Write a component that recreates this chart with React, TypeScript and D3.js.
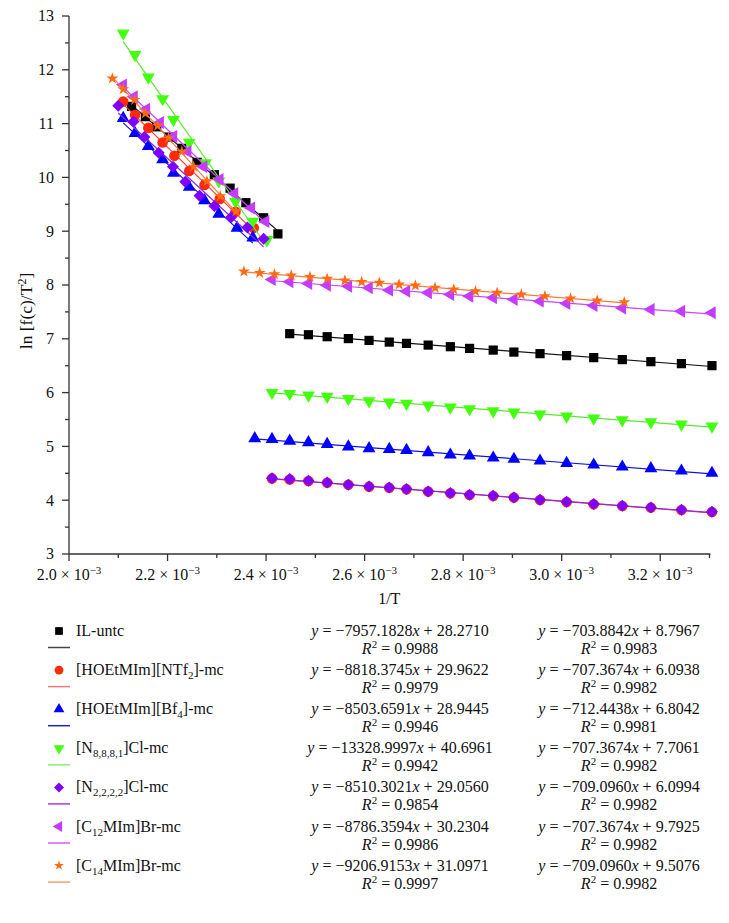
import React from 'react';
import * as d3 from 'd3';

const W = 729;
const H = 923;

// x values are 1/T in units of 1e-3 K^-1
// ---- steep (high temperature) segments ----
const ilSteepX = [2.127, 2.155, 2.178, 2.203, 2.229, 2.260, 2.295, 2.327, 2.359, 2.395, 2.424];
const ilSteepY = [11.32, 11.13, 10.94, 10.75, 10.54, 10.28, 10.05, 9.80, 9.53, 9.25, 8.95];
const ntf2SteepX = [2.110, 2.134, 2.161, 2.190, 2.214, 2.244, 2.275, 2.306, 2.338, 2.375];
const ntf2SteepY = [11.41, 11.16, 10.92, 10.65, 10.40, 10.12, 9.86, 9.60, 9.36, 9.06];
const bf4SteepX = [2.110, 2.134, 2.161, 2.190, 2.212, 2.244, 2.275, 2.304, 2.341, 2.373];
const bf4SteepY = [11.10, 10.82, 10.58, 10.33, 10.08, 9.82, 9.57, 9.32, 9.06, 8.88];
const n8881SteepX = [2.110, 2.134, 2.161, 2.190, 2.212, 2.244, 2.277, 2.304, 2.338, 2.373, 2.402];
const n8881SteepY = [12.68, 12.28, 11.86, 11.46, 11.07, 10.65, 10.27, 9.93, 9.55, 9.18, 8.84];
const n2222SteepX = [2.100, 2.131, 2.153, 2.182, 2.211, 2.236, 2.265, 2.295, 2.329, 2.362, 2.395];
const n2222SteepY = [11.33, 11.04, 10.75, 10.46, 10.20, 9.92, 9.66, 9.47, 9.26, 9.07, 8.86];
const c12SteepX = [2.110, 2.132, 2.157, 2.185, 2.212, 2.241, 2.273, 2.306, 2.336, 2.370, 2.399];
const c12SteepY = [11.72, 11.50, 11.27, 11.02, 10.76, 10.48, 10.20, 9.96, 9.70, 9.43, 9.18];
const c14SteepX = [2.088, 2.110, 2.133, 2.155, 2.180, 2.202, 2.229, 2.253, 2.280, 2.307, 2.339];
const c14SteepY = [11.84, 11.64, 11.44, 11.19, 10.96, 10.73, 10.48, 10.20, 9.93, 9.65, 9.37];

// ---- shallow (low temperature) segments ----
const ilShallowX = [2.448, 2.486, 2.524, 2.567, 2.609, 2.650, 2.685, 2.729, 2.774, 2.813, 2.861, 2.903, 2.956, 3.010, 3.065, 3.123, 3.181, 3.243, 3.305];
const ilShallowY = [7.095, 7.076, 7.039, 7.004, 6.970, 6.939, 6.915, 6.883, 6.853, 6.822, 6.790, 6.753, 6.724, 6.687, 6.650, 6.613, 6.575, 6.538, 6.501];
const ntf2ShallowX = [2.412, 2.448, 2.486, 2.524, 2.567, 2.609, 2.650, 2.685, 2.729, 2.774, 2.813, 2.861, 2.903, 2.956, 3.010, 3.065, 3.123, 3.181, 3.243, 3.305];
const ntf2ShallowY = [4.405, 4.385, 4.356, 4.325, 4.286, 4.252, 4.232, 4.202, 4.160, 4.128, 4.097, 4.077, 4.048, 4.004, 3.966, 3.925, 3.892, 3.862, 3.818, 3.781];
const bf4ShallowX = [2.377, 2.412, 2.448, 2.486, 2.524, 2.567, 2.609, 2.650, 2.685, 2.729, 2.774, 2.813, 2.861, 2.903, 2.956, 3.010, 3.065, 3.123, 3.181, 3.243, 3.305];
const bf4ShallowY = [5.147, 5.134, 5.102, 5.073, 5.041, 4.995, 4.961, 4.948, 4.930, 4.887, 4.842, 4.824, 4.787, 4.763, 4.731, 4.688, 4.657, 4.620, 4.590, 4.545, 4.503];
const n8881ShallowX = [2.412, 2.448, 2.486, 2.524, 2.567, 2.609, 2.650, 2.685, 2.729, 2.774, 2.813, 2.861, 2.903, 2.956, 3.010, 3.065, 3.123, 3.181, 3.243, 3.305];
const n8881ShallowY = [6.000, 5.981, 5.950, 5.926, 5.885, 5.844, 5.820, 5.796, 5.764, 5.727, 5.696, 5.659, 5.635, 5.597, 5.560, 5.523, 5.492, 5.454, 5.412, 5.375];
const n2222ShallowX = [2.412, 2.448, 2.486, 2.524, 2.567, 2.609, 2.650, 2.685, 2.729, 2.774, 2.813, 2.861, 2.903, 2.956, 3.010, 3.065, 3.123, 3.181, 3.243, 3.305];
const n2222ShallowY = [4.410, 4.392, 4.360, 4.330, 4.289, 4.256, 4.237, 4.206, 4.163, 4.132, 4.100, 4.081, 4.052, 4.007, 3.970, 3.928, 3.896, 3.866, 3.822, 3.785];
const c12ShallowX = [2.412, 2.448, 2.486, 2.524, 2.567, 2.609, 2.650, 2.685, 2.729, 2.774, 2.813, 2.861, 2.903, 2.956, 3.010, 3.065, 3.123, 3.181, 3.243, 3.305];
const c12ShallowY = [8.100, 8.060, 8.028, 7.996, 7.978, 7.948, 7.904, 7.885, 7.855, 7.824, 7.792, 7.763, 7.731, 7.700, 7.657, 7.620, 7.573, 7.545, 7.513, 7.484];
const c14ShallowX = [2.355, 2.387, 2.417, 2.451, 2.489, 2.524, 2.560, 2.594, 2.630, 2.670, 2.703, 2.743, 2.781, 2.825, 2.869, 2.918, 2.966, 3.018, 3.072, 3.127];
const c14ShallowY = [8.250, 8.226, 8.200, 8.176, 8.148, 8.117, 8.083, 8.059, 8.041, 8.009, 7.991, 7.948, 7.917, 7.885, 7.855, 7.824, 7.792, 7.750, 7.712, 7.681];

// ---- legend / labels ----
type Part = { t: string; sub?: boolean };
const seriesNames: Part[][] = [
  [{ t: 'IL-untc' }],
  [{ t: '[HOEtMIm][NTf' }, { t: '2', sub: true }, { t: ']-mc' }],
  [{ t: '[HOEtMIm][Bf' }, { t: '4', sub: true }, { t: ']-mc' }],
  [{ t: '[N' }, { t: '8,8,8,1', sub: true }, { t: ']Cl-mc' }],
  [{ t: '[N' }, { t: '2,2,2,2', sub: true }, { t: ']Cl-mc' }],
  [{ t: '[C' }, { t: '12', sub: true }, { t: 'MIm]Br-mc' }],
  [{ t: '[C' }, { t: '14', sub: true }, { t: 'MIm]Br-mc' }],
];
const steepSlopes = ['−7957.1828', '−8818.3745', '−8503.6591', '−13328.9997', '−8510.3021', '−8786.3594', '−9206.9153'];
const steepIntercepts = ['28.2710', '29.9622', '28.9445', '40.6961', '29.0560', '30.2304', '31.0971'];
const steepR2 = ['0.9988', '0.9979', '0.9946', '0.9942', '0.9854', '0.9986', '0.9997'];
const shallowSlopes = ['−703.8842', '−707.3674', '−712.4438', '−707.3674', '−709.0960', '−707.3674', '−709.0960'];
const shallowIntercepts = ['8.7967', '6.0938', '6.8042', '7.7061', '6.0994', '9.7925', '9.5076'];
const shallowR2 = ['0.9983', '0.9982', '0.9981', '0.9982', '0.9982', '0.9982', '0.9982'];

const markerKinds = ['square', 'circle', 'triUp', 'triDown', 'diamond', 'triLeft', 'star'];
const markerColors = ['#000000', '#ff2a0c', '#0000ff', '#44ff10', '#8000ff', '#c43cff', '#ff6a12'];
const lineColors = ['#111111', '#ff3a2a', '#1010e0', '#5ae830', '#8a2be2', '#cc44ff', '#ff7a30'];
const legendLineColors = ['#444444', '#f07878', '#2020c8', '#88f070', '#9a40e8', '#d060f0', '#f0a070'];

const xMajor = [2.0, 2.2, 2.4, 2.6, 2.8, 3.0, 3.2];
const xMajorLabels = ['2.0', '2.2', '2.4', '2.6', '2.8', '3.0', '3.2'];
const xMinor = [2.1, 2.3, 2.5, 2.7, 2.9, 3.1, 3.3];
const yMajor = [3, 4, 5, 6, 7, 8, 9, 10, 11, 12, 13];
const yMinor = [3.5, 4.5, 5.5, 6.5, 7.5, 8.5, 9.5, 10.5, 11.5, 12.5];

const steepXs = [ilSteepX, ntf2SteepX, bf4SteepX, n8881SteepX, n2222SteepX, c12SteepX, c14SteepX];
const steepYs = [ilSteepY, ntf2SteepY, bf4SteepY, n8881SteepY, n2222SteepY, c12SteepY, c14SteepY];
const shallowXs = [ilShallowX, ntf2ShallowX, bf4ShallowX, n8881ShallowX, n2222ShallowX, c12ShallowX, c14ShallowX];
const shallowYs = [ilShallowY, ntf2ShallowY, bf4ShallowY, n8881ShallowY, n2222ShallowY, c12ShallowY, c14ShallowY];

const FONT = '"Liberation Serif", "Times New Roman", serif';

const left = 69, right = 709.5, top = 16, bottom = 554;
const x = d3.scaleLinear().domain([2.0, 3.3]).range([left, right]);
const y = d3.scaleLinear().domain([3, 13]).range([bottom, top]);

function fit(xs: number[], ys: number[]) {
  const mx = d3.mean(xs) as number;
  const my = d3.mean(ys) as number;
  let sxy = 0, sxx = 0;
  xs.forEach((v, i) => { sxy += (v - mx) * (ys[i] - my); sxx += (v - mx) * (v - mx); });
  const b = sxy / sxx;
  const a = my - b * mx;
  const x0 = d3.min(xs) as number, x1 = d3.max(xs) as number;
  return [[x0, a + b * x0], [x1, a + b * x1]] as [number, number][];
}

function symbolFor(kind: string, scale = 1) {
  let type: d3.SymbolType = d3.symbolSquare;
  let size = 85;
  let rot = 0;
  switch (kind) {
    case 'square': type = d3.symbolSquare; size = 85; break;
    case 'circle': type = d3.symbolCircle; size = 88; break;
    case 'triUp': type = d3.symbolTriangle; size = 72; break;
    case 'triDown': type = d3.symbolTriangle; size = 72; rot = 180; break;
    case 'diamond': type = d3.symbolSquare; size = 72; rot = 45; break;
    case 'triLeft': type = d3.symbolTriangle; size = 72; rot = -90; break;
    case 'star': type = d3.symbolStar; size = 44; break;
  }
  return { d: d3.symbol().type(type).size(size * scale)() as string, rot };
}

const line = d3.line<[number, number]>().x(d => x(d[0])).y(d => y(d[1]));

function NameText({ parts, xPos, yPos }: { parts: Part[]; xPos: number; yPos: number }) {
  const out: React.ReactNode[] = [];
  let shifted = false;
  parts.forEach((p, i) => {
    if (p.sub) {
      out.push(<tspan key={i} dy={4} fontSize={11}>{p.t}</tspan>);
      shifted = true;
    } else if (shifted) {
      out.push(<tspan key={i} dy={-4}>{p.t}</tspan>);
      shifted = false;
    } else {
      out.push(<tspan key={i}>{p.t}</tspan>);
    }
  });
  return <text x={xPos} y={yPos} fontSize={16} fontFamily={FONT} fill="#111">{out}</text>;
}

function Eq({ cx, cy, slope, icpt }: { cx: number; cy: number; slope: string; icpt: string }) {
  return (
    <text x={cx} y={cy} textAnchor="middle" fontSize={16} fontFamily={FONT} fill="#111">
      <tspan fontStyle="italic">y</tspan>{' = ' + slope}<tspan fontStyle="italic">x</tspan>{' + ' + icpt}
    </text>
  );
}

function R2({ cx, cy, val }: { cx: number; cy: number; val: string }) {
  return (
    <text x={cx} y={cy} textAnchor="middle" fontSize={16} fontFamily={FONT} fill="#111">
      <tspan fontStyle="italic">R</tspan>
      <tspan dy={-6} fontSize={11}>2</tspan>
      <tspan dy={6}>{' = ' + val}</tspan>
    </text>
  );
}

export default function App() {
  const legendY0 = 636;
  const rowStep = 39.1;
  const eqCol1 = 400;
  const eqCol2 = 619;
  return (
    <svg width={W} height={H} style={{ position: 'absolute', left: 0, top: 0, background: '#fff' }}>
      <rect x={0} y={0} width={W} height={H} fill="#fff" />
      {/* series */}
      {markerKinds.map((kind, i) => {
        const sym = symbolFor(kind);
        const sf = fit(steepXs[i], steepYs[i]);
        const hf = fit(shallowXs[i], shallowYs[i]);
        return (
          <g key={i}>
            <path d={line(sf) as string} stroke={lineColors[i]} strokeWidth={1.2} fill="none" />
            <path d={line(hf) as string} stroke={lineColors[i]} strokeWidth={1.2} fill="none" />
            {steepXs[i].map((v, j) => (
              <path key={'s' + j} d={sym.d} fill={markerColors[i]}
                transform={`translate(${x(v)},${y(steepYs[i][j])}) rotate(${sym.rot})`} />
            ))}
            {shallowXs[i].map((v, j) => (
              <path key={'h' + j} d={sym.d} fill={markerColors[i]}
                transform={`translate(${x(v)},${y(shallowYs[i][j])}) rotate(${sym.rot})`} />
            ))}
          </g>
        );
      })}

      {/* axes */}
      <g stroke="#333" strokeWidth={1.3} fill="none">
        <line x1={left} y1={top} x2={left} y2={bottom} />
        <line x1={left} y1={bottom} x2={right + 1} y2={bottom} />
        {yMajor.map(v => <line key={'ym' + v} x1={left - 7} x2={left} y1={y(v)} y2={y(v)} />)}
        {yMinor.map(v => <line key={'yn' + v} x1={left - 4} x2={left} y1={y(v)} y2={y(v)} />)}
        {xMajor.map(v => <line key={'xm' + v} x1={x(v)} x2={x(v)} y1={bottom} y2={bottom + 7} />)}
        {xMinor.map(v => <line key={'xn' + v} x1={x(v)} x2={x(v)} y1={bottom} y2={bottom + 4} />)}
      </g>
      <g fontFamily={FONT} fontSize={16} fill="#111">
        {yMajor.map(v => (
          <text key={'yl' + v} x={54} y={y(v)} dy="0.34em" textAnchor="end">{v}</text>
        ))}
        {xMajor.map((v, i) => (
          <text key={'xl' + v} x={x(v)} y={580} textAnchor="middle">
            {xMajorLabels[i] + ' × 10'}
            <tspan dy={-6} fontSize={11}>−3</tspan>
          </text>
        ))}
        <text x={(left + right) / 2} y={604} textAnchor="middle">1/T</text>
        <text transform={`translate(32,311) rotate(-90)`} textAnchor="middle" fontSize={17.5}>
          ln [f(c)/T<tspan dy={-6} fontSize={12}>2</tspan><tspan dy={6}>]</tspan>
        </text>
      </g>

      {/* legend */}
      {seriesNames.map((parts, i) => {
        const ry = legendY0 + i * rowStep;
        const sym = symbolFor(markerKinds[i], 0.7);
        return (
          <g key={'lg' + i}>
            <path d={sym.d} fill={markerColors[i]} transform={`translate(59,${ry - 5}) rotate(${sym.rot})`} />
            <NameText parts={parts} xPos={76} yPos={ry} />
            <line x1={48} x2={70} y1={ry + 11.5} y2={ry + 11.5} stroke={legendLineColors[i]} strokeWidth={1.5} />
            <Eq cx={eqCol1} cy={ry} slope={steepSlopes[i]} icpt={steepIntercepts[i]} />
            <Eq cx={eqCol2} cy={ry} slope={shallowSlopes[i]} icpt={shallowIntercepts[i]} />
            <R2 cx={eqCol1} cy={ry + 18} val={steepR2[i]} />
            <R2 cx={eqCol2} cy={ry + 18} val={shallowR2[i]} />
          </g>
        );
      })}
    </svg>
  );
}
